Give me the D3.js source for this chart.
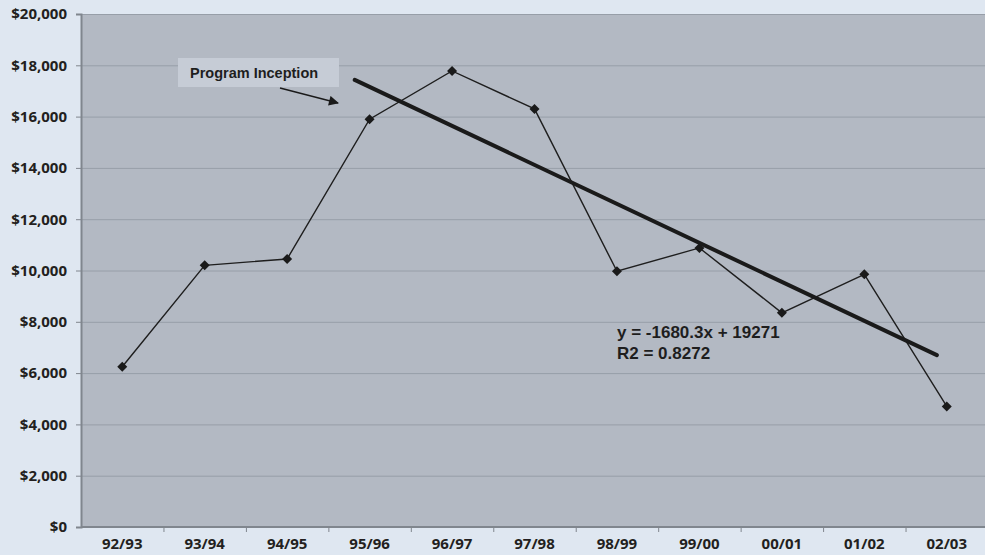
<!DOCTYPE html>
<html>
<head>
<meta charset="utf-8">
<script src="https://cdn.jsdelivr.net/npm/d3@7"></script>
<style>
  html, body { margin: 0; padding: 0; background: #dfe7f1; overflow: hidden; }
  svg { display: block; }
</style>
</head>
<body>
<svg id="chart" width="985" height="555"></svg>
<script>
// School years on the category axis
const years = ["92/93", "93/94", "94/95", "95/96", "96/97", "97/98", "98/99", "99/00", "00/01", "01/02", "02/03"];
// Annual dollar amounts
const amounts = [6250, 10200, 10450, 15900, 17780, 16300, 9970, 10880, 8350, 9850, 4700];
// Y axis ticks
const yTicks = [0, 2000, 4000, 6000, 8000, 10000, 12000, 14000, 16000, 18000, 20000];
// Trend line ends (category index, dollars) and its fitted equation
const trendIdx = [2.82, 9.88];
const trendVal = [17430, 6700];
const trendLabel = ["y = -1680.3x + 19271", "R2 = 0.8272"];
const noteText = "Program Inception";

const svg = d3.select("#chart");
const m = { left: 81, top: 14, right: 988, bottom: 527 };

const x = d3.scaleBand().domain(years).range([m.left, m.right]).padding(0);
const y = d3.scaleLinear().domain([0, 20000]).range([m.bottom, m.top]);
const xi = d3.scaleLinear().domain([0, years.length - 1])
  .range([x(years[0]) + x.bandwidth() / 2, x(years[years.length - 1]) + x.bandwidth() / 2]);

// plot area
svg.append("rect")
  .attr("x", m.left).attr("y", m.top)
  .attr("width", m.right - m.left).attr("height", m.bottom - m.top)
  .attr("fill", "#b3b9c3");

// horizontal gridlines
svg.append("g").selectAll("line").data(yTicks.filter(d => d > 0)).join("line")
  .attr("x1", m.left).attr("x2", m.right)
  .attr("y1", d => y(d) + 0.5).attr("y2", d => y(d) + 0.5)
  .attr("stroke", "#979ea8").attr("stroke-width", 1);

// y axis
const yAxis = d3.axisLeft(y).tickValues(yTicks).tickSize(5).tickPadding(9)
  .tickFormat(d => "$" + d3.format(",")(d));
const gy = svg.append("g").attr("transform", `translate(${m.left},0)`).call(yAxis);
gy.select(".domain").attr("stroke", "#80868e").attr("stroke-width", 2);
gy.selectAll(".tick line").attr("stroke", "#80868e");
gy.selectAll(".tick text")
  .attr("fill", "#231f20")
  .style("font-family", "'Open Sans', sans-serif")
  .style("font-weight", "700")
  .style("font-size", "15px");

// x axis: labels centred in each band, ticks at band boundaries
svg.append("line")
  .attr("x1", m.left).attr("x2", m.right)
  .attr("y1", m.bottom).attr("y2", m.bottom)
  .attr("stroke", "#80868e").attr("stroke-width", 2);
svg.append("g").selectAll("line").data(years.slice(1)).join("line")
  .attr("x1", d => x(d) + 0.5).attr("x2", d => x(d) + 0.5)
  .attr("y1", m.bottom).attr("y2", m.bottom + 5)
  .attr("stroke", "#80868e");
svg.append("g").selectAll("text").data(years).join("text")
  .attr("x", d => x(d) + x.bandwidth() / 2)
  .attr("y", m.bottom + 22)
  .attr("text-anchor", "middle")
  .attr("fill", "#231f20")
  .style("font-family", "'Open Sans', sans-serif")
  .style("font-weight", "700")
  .style("font-size", "15px")
  .text(d => d);

// data line
const line = d3.line().x((d, i) => x(years[i]) + x.bandwidth() / 2).y(d => y(d));
svg.append("path").datum(amounts)
  .attr("d", line)
  .attr("fill", "none").attr("stroke", "#1e1e1e").attr("stroke-width", 1.4);

// diamond markers
svg.append("g").selectAll("path").data(amounts).join("path")
  .attr("transform", (d, i) => `translate(${x(years[i]) + x.bandwidth() / 2},${y(d)})`)
  .attr("d", "M0,-5L5,0L0,5L-5,0Z")
  .attr("fill", "#1a1a1a");

// trend line
svg.append("line")
  .attr("x1", xi(trendIdx[0])).attr("y1", y(trendVal[0]))
  .attr("x2", xi(trendIdx[1])).attr("y2", y(trendVal[1]))
  .attr("stroke", "#1a1a1a").attr("stroke-width", 4).attr("stroke-linecap", "round");

// trend equation
svg.append("g").selectAll("text").data(trendLabel).join("text")
  .attr("x", 617).attr("y", (d, i) => 338 + i * 21)
  .attr("fill", "#1e1e1e")
  .style("font-family", "'Liberation Sans', Arial, sans-serif")
  .style("font-weight", "700")
  .style("font-size", "17px")
  .text(d => d);

// inception note with arrow
svg.append("defs").append("marker")
  .attr("id", "arrow").attr("viewBox", "0 0 10 10")
  .attr("refX", 9).attr("refY", 5)
  .attr("markerWidth", 14).attr("markerHeight", 10)
  .attr("markerUnits", "userSpaceOnUse")
  .attr("orient", "auto")
  .append("path").attr("d", "M0,0L10,5L0,10Z").attr("fill", "#1a1a1a");

svg.append("rect")
  .attr("x", 178).attr("y", 58).attr("width", 161).attr("height", 29)
  .attr("fill", "#c6ccd6");
svg.append("text")
  .attr("x", 190).attr("y", 78)
  .attr("fill", "#1e1e1e")
  .style("font-family", "'Liberation Sans', Arial, sans-serif")
  .style("font-weight", "700")
  .style("font-size", "14.5px")
  .text(noteText);
svg.append("line")
  .attr("x1", 280).attr("y1", 88).attr("x2", 338).attr("y2", 103)
  .attr("stroke", "#1a1a1a").attr("stroke-width", 1.3)
  .attr("marker-end", "url(#arrow)");
</script>
</body>
</html>
